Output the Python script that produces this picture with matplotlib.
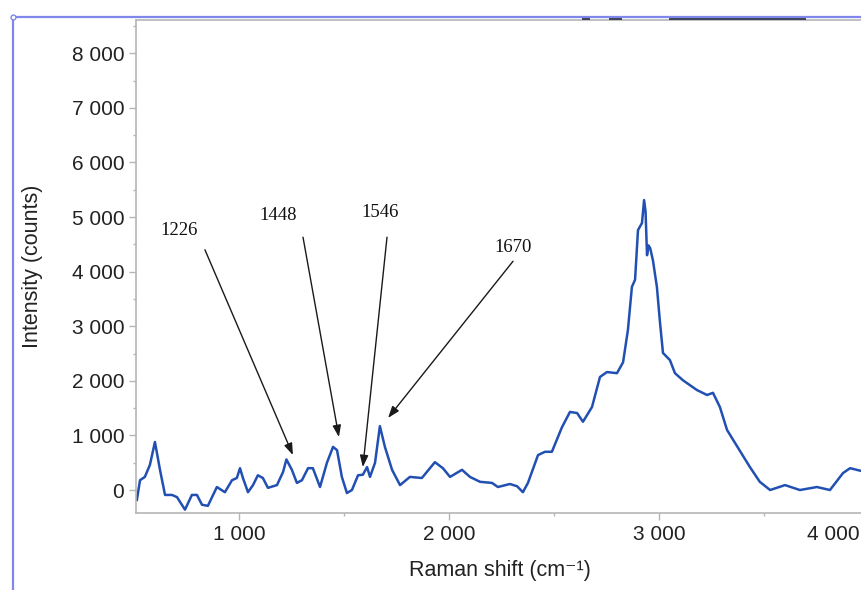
import matplotlib
matplotlib.use("Agg")
import matplotlib.pyplot as plt
import matplotlib.transforms as mtransforms
from matplotlib.lines import Line2D
from matplotlib.ticker import FuncFormatter, MultipleLocator

# Raman spectrum
shift = [514, 529, 552, 576, 600, 624, 648, 681, 705, 743, 776, 800, 824, 852,
         895, 933, 967, 990, 1005, 1019, 1043, 1067, 1090, 1114, 1138, 1181,
         1210, 1226, 1252, 1276, 1300, 1329, 1352, 1386, 1419, 1448, 1467, 1490,
         1514, 1538, 1567, 1590, 1610, 1624, 1648, 1671, 1695, 1729, 1767, 1814,
         1871, 1933, 1971, 2005, 2062, 2100, 2148, 2205, 2233, 2290, 2324, 2352,
         2376, 2424, 2457, 2490, 2538, 2576, 2610, 2638, 2681, 2719, 2752, 2800,
         2829, 2852, 2871, 2886, 2900, 2919, 2929, 2936, 2943, 2950, 2958, 2971,
         2990, 3005, 3019, 3052, 3076, 3114, 3181, 3229, 3257, 3290, 3324, 3380,
         3433, 3480, 3529, 3600, 3671, 3752, 3814, 3876, 3910, 3962]
intensity = [-180, 180, 240, 460, 880, 370, -90, -90, -130, -360, -90, -90, -270, -290,
             55, -40, 180, 220, 400, 220, -40, 90, 270, 220, 40, 90,
             330, 560, 370, 130, 180, 400, 400, 55, 500, 790, 730, 240,
             -55, 0, 270, 280, 420, 240, 500, 1170, 790, 370, 90, 240,
             220, 510, 400, 240, 370, 240, 150, 130, 55, 110, 70, -40,
             130, 640, 700, 700, 1150, 1430, 1410, 1250, 1520, 2070, 2160, 2140,
             2340, 2930, 3720, 3850, 4760, 4890, 5310, 5100, 4300, 4480, 4430, 4210,
             3720, 3060, 2510, 2380, 2140, 2010, 1830, 1740, 1780, 1520, 1100, 750,
             420, 150, 0, 90, 0, 55, 0, 310, 400, 350]

# annotated peaks: label, text position, arrow start, arrow tip
peak_labels = ["1226", "1448", "1546", "1670"]
label_xy = [(714, 4760), (1186, 5020), (1671, 5090), (2305, 4450)]
arrow_from = [(838, 4400), (1305, 4630), (1705, 4630), (2305, 4190)]
arrow_to = [(1257, 640), (1476, 970), (1590, 420), (1710, 1320)]

fig = plt.figure(figsize=(8.61, 5.90), dpi=100)
ax = fig.add_axes([0.158, 0.1305, 0.8757, 0.8356])

ax.plot(shift, intensity, color="#2150b2", lw=1.8)

ax.set_xlim(510, 4100)
ax.set_ylim(-421, 8608)

ax.xaxis.set_major_locator(MultipleLocator(1000))
ax.xaxis.set_minor_locator(MultipleLocator(500))
ax.yaxis.set_major_locator(MultipleLocator(1000))
ax.yaxis.set_minor_locator(MultipleLocator(500))
fmt = FuncFormatter(lambda v, p: f"{int(round(v)):,}".replace(",", " "))
ax.xaxis.set_major_formatter(fmt)
ax.yaxis.set_major_formatter(fmt)

grey = "#b5b5b5"
for s in ax.spines.values():
    s.set_color(grey)
    s.set_linewidth(1.2)
ax.tick_params(which="major", length=5, width=1, color=grey, pad=3.5,
               labelsize=15, labelcolor="#222222")
ax.tick_params(which="minor", length=2.5, width=1, color=grey)
for lab in ax.get_xticklabels() + ax.get_yticklabels():
    lab.set_family(["Liberation Sans", "DejaVu Sans"])

ax.set_xlabel("Raman shift (cm⁻¹)", fontsize=15.5, color="#222222",
              family=["Liberation Sans", "DejaVu Sans"])
ax.set_ylabel("Intensity (counts)", fontsize=15.5, color="#222222",
              family=["Liberation Sans", "DejaVu Sans"])
ax.xaxis.set_label_coords(0.483, -0.095)
ax.yaxis.set_label_coords(-0.123, 0.5)

# the 4 000 label sits past the right edge, pull it back in
fig.canvas.draw()
shift_left = mtransforms.ScaledTranslation(-0.36, 0, fig.dpi_scale_trans)
for tick in ax.xaxis.get_major_ticks():
    if abs(tick.get_loc() - 4000) < 1:
        tick.label1.set_transform(tick.label1.get_transform() + shift_left)

for lab, txy, a0, a1 in zip(peak_labels, label_xy, arrow_from, arrow_to):
    ax.text(txy[0], txy[1], lab, ha="center", va="center", fontsize=13.5,
            family="Liberation Serif", color="#111111")
    ax.annotate("", xy=a1, xytext=a0,
                arrowprops=dict(arrowstyle="-|>,head_length=0.7,head_width=0.25",
                                color="#1a1a1a", lw=1.0, mutation_scale=10,
                                shrinkA=0, shrinkB=0))

# selection frame around the chart
frame_blue = "#7f88ea"
fig.add_artist(Line2D([13 / 861, 1], [1 - 17 / 590, 1 - 17 / 590],
                      color=frame_blue, lw=1.6))
fig.add_artist(Line2D([13 / 861, 13 / 861], [0, 1 - 17 / 590],
                      color=frame_blue, lw=1.6))
fig.add_artist(Line2D([13 / 861], [1 - 17 / 590], marker="o", ms=3.5,
                      mfc="white", mec=frame_blue, mew=1))
for x0, x1 in [(583, 589), (610, 621), (670, 805)]:
    fig.add_artist(Line2D([x0 / 861, x1 / 861], [1 - 19 / 590, 1 - 19 / 590],
                          color="#3c4258", lw=1.4))

fig.savefig("out.png", dpi=100)
